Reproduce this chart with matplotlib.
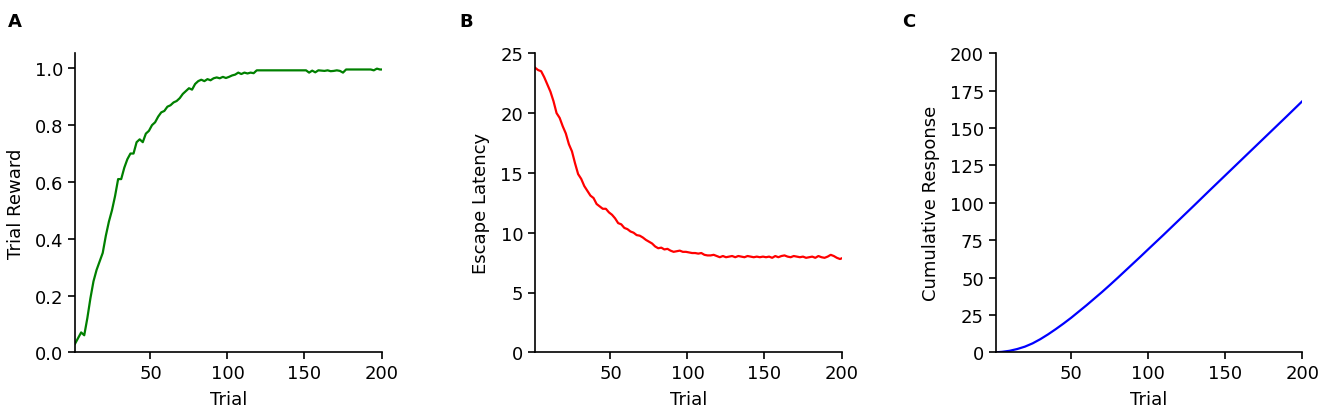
import matplotlib
matplotlib.use("Agg")
import matplotlib.pyplot as plt
import numpy as np

# ---- Data ----
trial_a = list(range(1, 200, 2)) + [200]
reward = [0.03, 0.05, 0.07, 0.06, 0.12, 0.19, 0.25, 0.29, 0.32, 0.35,
          0.41, 0.46, 0.50, 0.55, 0.61, 0.61, 0.65, 0.68, 0.70, 0.70,
          0.74, 0.75, 0.74, 0.77, 0.78, 0.80, 0.81, 0.83, 0.845, 0.85,
          0.865, 0.87, 0.88, 0.885, 0.895, 0.91, 0.92, 0.93, 0.925, 0.945,
          0.955, 0.96, 0.955, 0.962, 0.958, 0.965, 0.968, 0.965, 0.97, 0.966,
          0.97, 0.975, 0.978, 0.985, 0.98, 0.985, 0.982, 0.985, 0.983, 0.993,
          0.993, 0.993, 0.993, 0.993, 0.993, 0.993, 0.993, 0.993, 0.993, 0.993,
          0.993, 0.993, 0.993, 0.993, 0.993, 0.993, 0.985, 0.992, 0.986, 0.993,
          0.992, 0.991, 0.993, 0.990, 0.991, 0.993, 0.991, 0.985, 0.996, 0.996,
          0.996, 0.996, 0.996, 0.996, 0.996, 0.996, 0.996, 0.993, 0.999, 0.996,
          0.996]

trial_b = list(range(1, 200, 2)) + [200]
latency = [23.8, 23.6, 23.5, 23.0, 22.4, 21.8, 21.0, 20.0, 19.6, 18.9,
           18.3, 17.4, 16.8, 15.8, 14.9, 14.5, 13.9, 13.5, 13.1, 12.9,
           12.4, 12.2, 12.0, 12.0, 11.7, 11.5, 11.2, 10.8, 10.7, 10.4,
           10.3, 10.1, 10.0, 9.8, 9.75, 9.6, 9.4, 9.25, 9.1, 8.85,
           8.7, 8.75, 8.6, 8.65, 8.5, 8.4, 8.45, 8.5, 8.4, 8.4,
           8.35, 8.3, 8.3, 8.25, 8.3, 8.15, 8.1, 8.1, 8.15, 8.05,
           7.95, 8.05, 7.95, 8.0, 8.05, 7.95, 8.05, 8.0, 7.95, 8.05,
           8.0, 7.95, 8.0, 7.95, 8.0, 7.95, 8.0, 7.9, 8.05, 7.95,
           8.05, 8.1, 8.0, 7.95, 8.05, 8.0, 7.95, 8.0, 7.9, 7.95,
           8.0, 7.9, 8.05, 7.95, 7.9, 8.0, 8.15, 8.05, 7.9, 7.8,
           7.85]

trial_c = [1, 5, 10, 15, 20, 25, 30, 35, 40, 45, 50, 55, 60, 65, 70, 75, 80,
           85, 90, 95, 100, 110, 120, 130, 140, 150, 160, 170, 180, 190, 200]
cumulative = [0.0, 0.3, 1.0, 2.2, 3.8, 6.0, 8.8, 12.0, 15.5, 19.2, 23.1,
              27.3, 31.5, 35.9, 40.3, 44.9, 49.6, 54.4, 59.2, 64.0, 68.9,
              78.6, 88.5, 98.4, 108.4, 118.3, 128.2, 138.1, 148.0, 157.9, 167.9]

xticks = [50, 100, 150, 200]

# ---- Figure ----
W, H = 1325, 414
fig = plt.figure(figsize=(W / 100, H / 100), dpi=100)
bottom = 1 - 353.3 / H
height = (353.3 - 54.3) / H
lefts = [75, 535, 995.7]
width = 306.5 / W

panels = [
    (trial_a, reward, "green", "Trial Reward", (0, 1.053),
     [0.0, 0.2, 0.4, 0.6, 0.8, 1.0], ["0.0", "0.2", "0.4", "0.6", "0.8", "1.0"]),
    (trial_b, latency, "red", "Escape Latency", (0, 25),
     [0, 5, 10, 15, 20, 25], ["0", "5", "10", "15", "20", "25"]),
    (trial_c, cumulative, "blue", "Cumulative Response", (0, 200),
     [0, 25, 50, 75, 100, 125, 150, 175, 200],
     ["0", "25", "50", "75", "100", "125", "150", "175", "200"]),
]
letters = ["A", "B", "C"]
letter_x = [8, 459, 902]

for i, (x, y, col, ylab, ylim, yt, ytl) in enumerate(panels):
    ax = fig.add_axes([lefts[i] / W, bottom, width, height])
    ax.plot(x, y, color=col, lw=1.6)
    ax.set_xlim(1, 200)
    ax.set_ylim(*ylim)
    ax.set_xticks(xticks)
    ax.set_xticklabels([str(t) for t in xticks])
    ax.set_yticks(yt)
    ax.set_yticklabels(ytl)
    ax.tick_params(labelsize=13, length=5, width=1.2)
    ax.set_xlabel("Trial", fontsize=13, labelpad=6)
    ax.set_ylabel(ylab, fontsize=13, labelpad=7)
    for s in ["top", "right"]:
        ax.spines[s].set_visible(False)
    for s in ["left", "bottom"]:
        ax.spines[s].set_linewidth(1.2)
    fig.text(letter_x[i] / W, 1 - 22 / H, letters[i], fontsize=13,
             fontweight="bold", ha="left", va="center")

fig.savefig("out.png", dpi=100)
